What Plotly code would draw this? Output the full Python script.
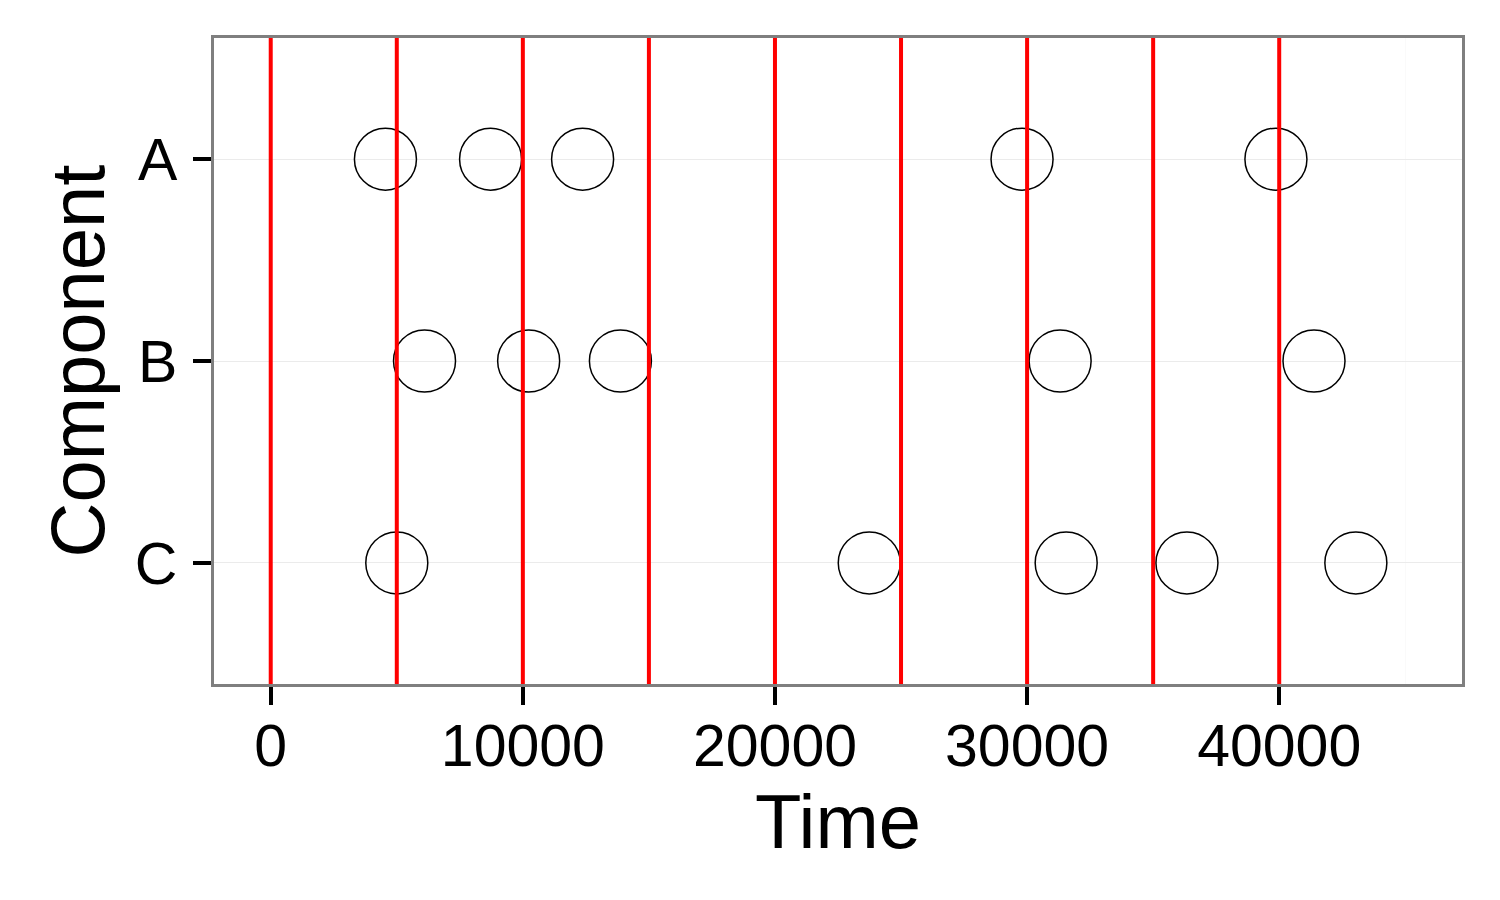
import plotly.graph_objects as go

components = ["A", "A", "A", "A", "A",
              "B", "B", "B", "B", "B",
              "C", "C", "C", "C", "C"]
times = [4550, 8720, 12370, 29800, 39870,
         6100, 10230, 13870, 31310, 41380,
         5000, 23740, 31550, 36340, 43040]
vlines = [0, 5000, 10000, 15000, 20000, 25000, 30000, 35000, 40000]
xticks = [0, 10000, 20000, 30000, 40000]
categories = ["C", "B", "A"]

fig = go.Figure()
fig.add_trace(go.Scatter(
    x=times, y=components, mode="markers",
    marker=dict(symbol="circle-open", size=62, color="black",
                line=dict(width=1.5, color="black")),
    showlegend=False, hoverinfo="skip"))

for v in vlines:
    fig.add_shape(type="line", x0=v, x1=v, xref="x", yref="paper", y0=0, y1=1,
                  line=dict(color="#ff0000", width=4), layer="above")

font = "Liberation Sans, Arial, sans-serif"
fig.update_layout(
    width=1500, height=900,
    margin=dict(l=214, r=38, t=38, b=216),
    plot_bgcolor="white", paper_bgcolor="white",
    font=dict(family=font, color="black"),
    xaxis=dict(range=[-2250, 47250], tickvals=xticks,
               ticktext=[str(t) for t in xticks],
               tickfont=dict(size=59, color="black"),
               ticks="outside", ticklen=18, tickwidth=3.5, tickcolor="black",
               ticklabelstandoff=-10,
               showgrid=True, gridcolor="#ebebeb", gridwidth=1,
               minor=dict(dtick=5000, tick0=0, showgrid=True, gridcolor="#fafafa", gridwidth=1, ticks=""),
               showline=True, linecolor="#7f7f7f", linewidth=2.5, mirror=True,
               zeroline=False,
               title=dict(text="Time", font=dict(size=76, color="black"), standoff=12)),
    yaxis=dict(type="category", categoryorder="array", categoryarray=categories,
               range=[-0.6, 2.6],
               tickfont=dict(size=59, color="black"),
               ticks="outside", ticklen=18, tickwidth=3.5, tickcolor="black",
               ticklabelstandoff=4,
               showgrid=True, gridcolor="#ebebeb", gridwidth=1,
               showline=True, linecolor="#7f7f7f", linewidth=2.5, mirror=True,
               zeroline=False,
               title=dict(text="Component", font=dict(size=76, color="black"), standoff=6)),
)

fig.write_html("out.html")
